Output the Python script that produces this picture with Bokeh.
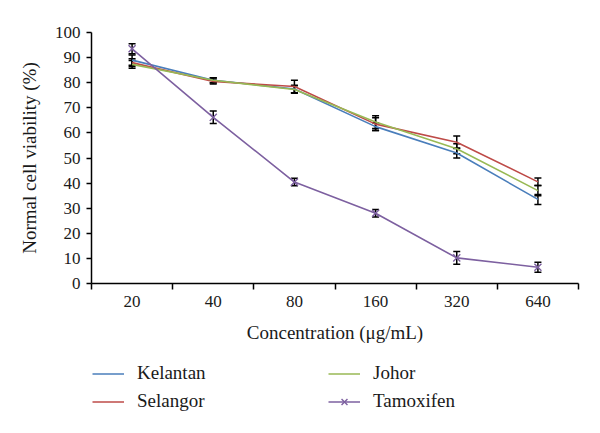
from bokeh.plotting import figure
from bokeh.layouts import column
from bokeh.models import FixedTicker, Whisker, TeeHead, ColumnDataSource, Legend, LegendItem
from bokeh.embed import file_html
from bokeh.resources import INLINE

categories = ["20", "40", "80", "160", "320", "640"]
kelantan = [89.0, 81.0, 77.5, 62.5, 52.0, 33.5]
selangor = [88.0, 80.5, 78.5, 63.5, 56.3, 40.5]
johor = [87.3, 81.0, 77.3, 64.3, 53.7, 37.0]
tamoxifen = [93.5, 66.2, 40.4, 28.0, 10.2, 6.5]
err_kelantan = [2.0, 1.0, 1.5, 1.5, 2.0, 2.0]
err_selangor = [1.5, 1.0, 2.5, 2.5, 2.5, 1.5]
err_johor = [1.5, 1.0, 1.5, 2.5, 2.0, 2.0]
err_tamoxifen = [2.0, 2.5, 1.5, 1.5, 2.5, 2.0]

series = [
    ("Kelantan", kelantan, err_kelantan, "#4a7ebb"),
    ("Selangor", selangor, err_selangor, "#be4b48"),
    ("Johor", johor, err_johor, "#98b954"),
    ("Tamoxifen", tamoxifen, err_tamoxifen, "#7d60a0"),
]

xs = [i + 0.5 for i in range(len(categories))]
FONT = "Liberation Serif"
LEGFONT = "'Liberation Serif', 'Times New Roman', serif"
TXT = "#1a1a1a"

p = figure(width=600, height=345, x_range=(0, len(categories)), y_range=(0, 100),
           output_backend="svg", toolbar_location=None,
           min_border_left=91, min_border_right=22, min_border_top=32, min_border_bottom=62)
p.outline_line_color = None
p.xgrid.visible = False
p.ygrid.visible = False

# legend panel (its ranges keep the series out of view; only the legend shows)
p2 = figure(width=600, height=88, x_range=(0, 1), y_range=(1000, 1001),
            output_backend="svg", toolbar_location=None,
            min_border_left=0, min_border_right=0, min_border_top=0, min_border_bottom=0)
p2.outline_line_color = None
p2.axis.visible = False
p2.grid.visible = False

leg_r = {}
for name, ys, err, color in series:
    src = ColumnDataSource(dict(x=xs, y=ys,
                                lo=[a - b for a, b in zip(ys, err)],
                                hi=[a + b for a, b in zip(ys, err)]))
    p.line("x", "y", source=src, line_color=color, line_width=1.6)
    rs = [p2.line("x", "y", source=src, line_color=color, line_width=1.6)]
    if name == "Tamoxifen":
        p.scatter("x", "y", source=src, marker="x", size=10, line_color=color, line_width=1.4)
        rs.append(p2.scatter("x", "y", source=src, marker="x", size=9, line_color=color, line_width=1.4))
    leg_r[name] = rs
    w = Whisker(base="x", lower="lo", upper="hi", source=src, dimension="height",
                line_color="black", line_width=1.5,
                upper_head=TeeHead(size=7, line_color="black", line_width=1.5),
                lower_head=TeeHead(size=7, line_color="black", line_width=1.5))
    p.add_layout(w)

# axes
xa = p.xaxis[0]
xa.ticker = FixedTicker(ticks=xs, minor_ticks=list(range(len(categories) + 1)))
xa.major_label_overrides = {x: c for x, c in zip(xs, categories)}
xa.major_tick_out = 0
xa.major_tick_in = 0
xa.minor_tick_out = 6
xa.minor_tick_in = 0
xa.axis_label = "Concentration (\u03bcg/mL)"
ya = p.yaxis[0]
ya.ticker = FixedTicker(ticks=list(range(0, 101, 10)))
ya.minor_tick_out = 0
ya.minor_tick_in = 0
ya.major_tick_out = 5
ya.major_tick_in = 0
ya.axis_label = "Normal cell viability (%)"
for ax in (xa, ya):
    ax.axis_line_color = "black"
    ax.axis_line_width = 1.5
    ax.major_tick_line_color = "black"
    ax.major_tick_line_width = 1.5
    ax.minor_tick_line_color = "black"
    ax.minor_tick_line_width = 1.5
    ax.major_label_text_font = FONT
    ax.major_label_text_font_size = "17px"
    ax.major_label_text_color = TXT
    ax.axis_label_text_font = FONT
    ax.axis_label_text_font_size = "19px"
    ax.axis_label_text_font_style = "normal"
    ax.axis_label_text_color = TXT
xa.major_label_standoff = 6
xa.axis_label_standoff = 12
ya.major_label_standoff = 6
ya.axis_label_standoff = 12

items = [LegendItem(label=n, renderers=leg_r[n]) for n in ["Kelantan", "Selangor", "Johor", "Tamoxifen"]]
legend = Legend(items=items, ncols=2, location=(1, 21),
                label_text_font=LEGFONT, label_text_font_size="19px", label_text_color=TXT,
                label_text_font_style="normal",
                glyph_width=32, glyph_height=21, label_height=21, label_standoff=13, spacing=6,
                label_width=185,
                border_line_color=None, background_fill_alpha=0, margin=0, padding=0)
p2.add_layout(legend)

layout = column(p, p2, spacing=0)
open("out.html", "w").write(file_html(layout, INLINE))
